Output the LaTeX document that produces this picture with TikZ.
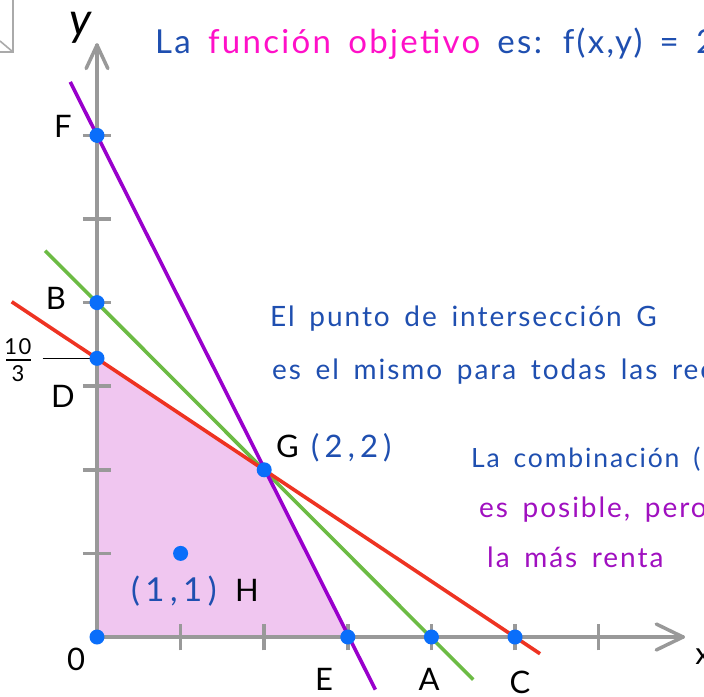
\documentclass[tikz,border=0pt]{standalone}
\usepackage{fontspec}
\setmainfont{Lato}
\newfontfamily\hand[LetterSpace=7,WordSpace=1.6]{Lato}
\definecolor{txtblue}{HTML}{1F4FB0}
\definecolor{txtpink}{HTML}{FF10C8}
\definecolor{txtpurple}{HTML}{A010C0}
\definecolor{lnpurple}{HTML}{9900CC}
\definecolor{lngreen}{HTML}{6CBB44}
\definecolor{lnred}{HTML}{EE3322}
\definecolor{dotblue}{HTML}{0A6EFA}
\definecolor{regfill}{HTML}{F0C6F0}
\definecolor{axgray}{HTML}{999999}
\definecolor{cornergray}{HTML}{AAAAAA}
\begin{document}
\begin{tikzpicture}[x=1pt,y=-1pt,
  axis/.style={draw=axgray, line width=3.5pt, line cap=round, line join=round},
  tickmark/.style={draw=axgray, line width=3.5pt},
  lineobj/.style={line width=3.6pt},
  dot/.style={circle, fill=dotblue, inner sep=0pt, minimum size=15pt},
  lbl/.style={font=\hand\fontsize{31}{31}\selectfont, text=black, inner sep=0pt},
  txt/.style={font=\hand\fontsize{28}{32}\selectfont, inner sep=0pt, anchor=base west},
]
\useasboundingbox (0,0) rectangle (704,696);
\clip (0,0) rectangle (704,696);
\fill[white] (0,0) rectangle (704,696);

% page corner
\draw[cornergray, line width=1.6pt] (13,0) -- (13,52) -- (0,52);
\draw[cornergray, line width=1.6pt] (0,41) -- (13,52);

\begin{scope}[shift={(97,637)}, x=83.6pt, y=83.6pt]
  \coordinate (o) at (0,0);
  \coordinate (d) at (0,10/3);
  \coordinate (g) at (2,2);
  \coordinate (e) at (3,0);
  \fill[regfill] (o) -- (d) -- (g) -- (e) -- cycle;
  % ticks
  \foreach \u in {1,...,6} {
    \draw[tickmark] (\u,-0.16) -- (\u,0.16);
    \draw[tickmark] (-0.17,\u) -- (0.17,\u);
  }
  % axes
  \coordinate (ytip) at (0,7.08);
  \coordinate (xtip) at (7.01,0);
  \draw[axis] (o) -- (ytip);
  \draw[axis] (o) -- (xtip);
  \draw[axis] (-0.13,6.8) -- (ytip) -- (0.13,6.8);
  \draw[axis] (6.69,0.155) -- (xtip) -- (6.69,-0.155);
  % 10/3 marker
  \coordinate (mk) at (-0.65,10/3);
  \draw[black, line width=1.6pt] (mk) -- (d);
  % lines
  \coordinate (p1) at (-0.32,6.64);
  \coordinate (p2) at (3.33,-0.63);
  \coordinate (g1) at (-0.62,4.62);
  \coordinate (g2) at (4.5,-0.51);
  \coordinate (r1) at (-1.02,4.01);
  \coordinate (r2) at (5.3,-0.2);
  \draw[lineobj, lngreen] (g1) -- (g2);
  \draw[lineobj, lnred] (r1) -- (r2);
  \draw[lineobj, lnpurple] (p1) -- (p2);
  % dots
  \node[dot] (O) at (0,0) {};
  \node[dot] (F) at (0,6) {};
  \node[dot] (B) at (0,4) {};
  \node[dot] (D) at (0,10/3) {};
  \node[dot] (G) at (2,2) {};
  \node[dot] (E) at (3,0) {};
  \node[dot] (A) at (4,0) {};
  \node[dot] (C) at (5,0) {};
  \node[dot] (H) at (1,1) {};
\end{scope}

% point labels
\node[lbl] (lF) at (63,126) {F};
\node[lbl] (lB) at (56,298) {B};
\node[lbl] (lD) at (63,396) {D};
\node[lbl] (lO) at (76,659) {0};
\node[lbl] (lE) at (324,679) {E};
\node[lbl] (lA) at (429,679) {A};
\node[lbl] (lC) at (520,682) {C};
\node[lbl] (lx) at (703,657) {x};
\node[lbl, font=\hand\itshape\fontsize{46}{46}\selectfont] (ly) at (81,28) {y};
% fraction 10/3
\node[lbl, font=\hand\fontsize{22}{22}\selectfont] (fn) at (18,347) {10};
\node[lbl, font=\hand\fontsize{22}{22}\selectfont] (fd) at (18,374) {3};
\coordinate (fl1) at (6,360);
\coordinate (fl2) at (31,360);
\draw[black, line width=1.4pt] (fl1) -- (fl2);
\node[lbl, anchor=base west] (lG) at (276,457) {G\hspace{0.4em}\textcolor{txtblue}{(\,2\,,\,2\,)}};
\node[lbl, anchor=base west, text=txtblue, font=\hand\fontsize{33}{33}\selectfont] (lHc) at (131,601) {(\,1\,,\,1\,)};
\node[lbl, anchor=base west] (lH) at (235,601) {H};

% texts
\node[txt, font=\hand\fontsize{33}{36}\selectfont, text=txtblue] (t1) at (155,53)
  {La \textcolor{txtpink}{función objetivo} es: f(x,y) = 2};
\node[txt, text=txtblue] (t2) at (270,326) {El punto de intersección G};
\node[txt, text=txtblue] (t3) at (272,379) {es el mismo para todas las rect};
\node[txt, text=txtblue, font=\hand\fontsize{26.5}{30}\selectfont] (t4) at (471,467) {La combinación (};
\node[txt, text=txtpurple] (t5) at (479,517) {es posible, pero};
\node[txt, text=txtpurple] (t6) at (487,567) {la más renta};
\end{tikzpicture}
\end{document}
